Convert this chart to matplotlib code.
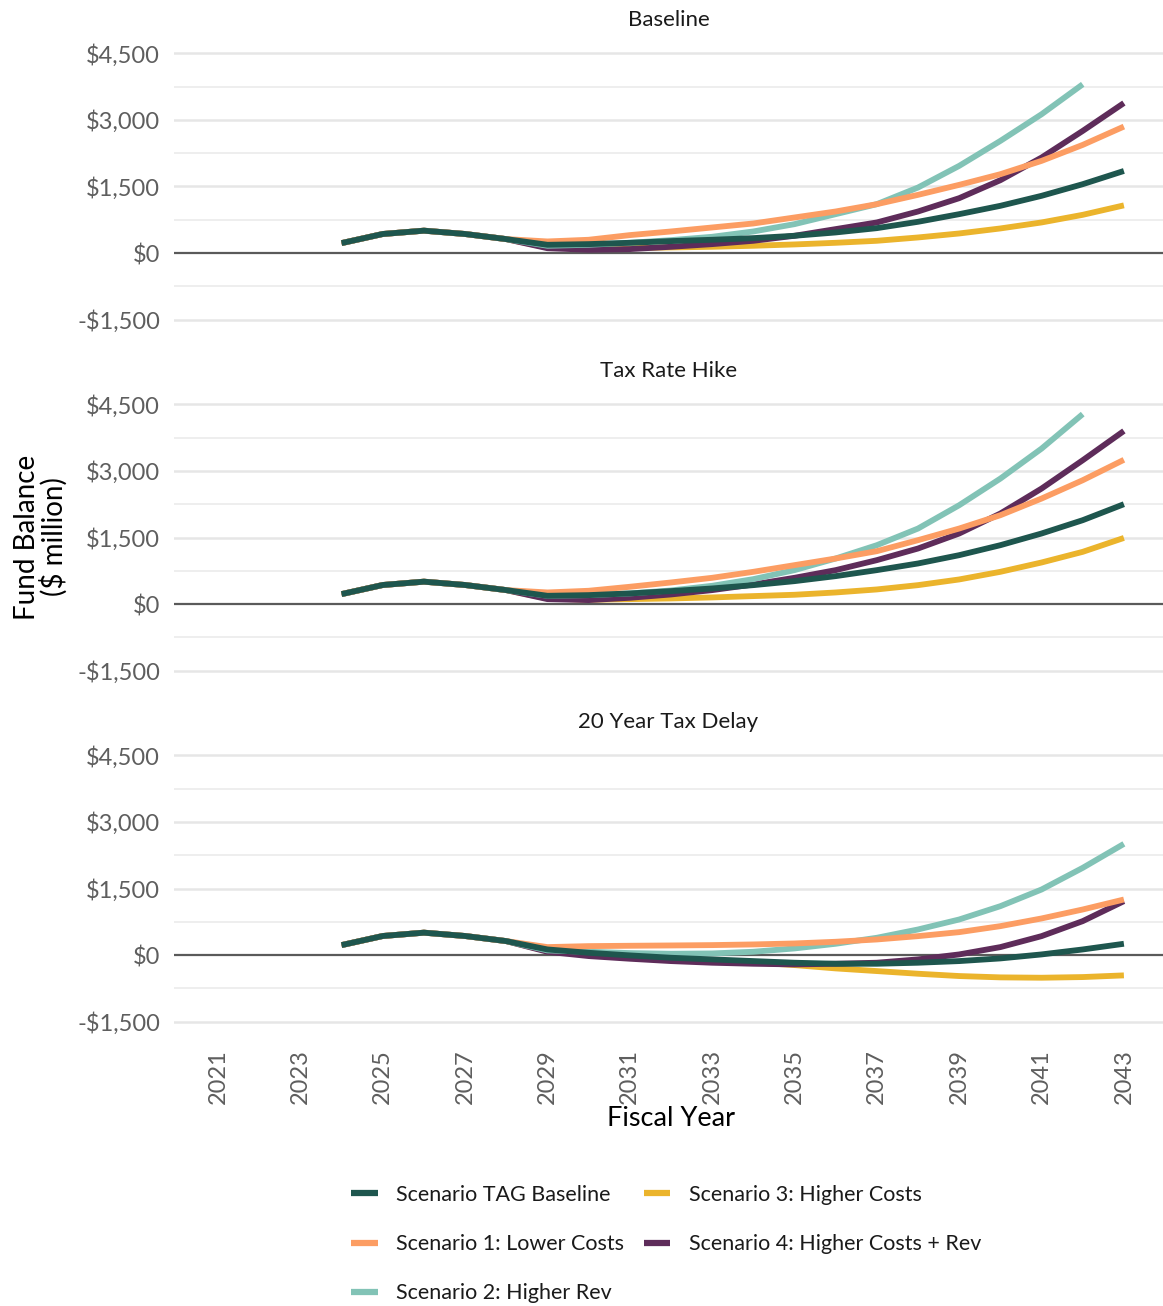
import matplotlib.pyplot as plt
import numpy as np

plt.rcParams['font.family'] = ['Lato', 'DejaVu Sans']

years = list(range(2024, 2044))
x_ticks = list(range(2021, 2044, 2))
y_ticks = [-1500, 0, 1500, 3000, 4500]
y_labels = ['-$1,500', '$0', '$1,500', '$3,000', '$4,500']
panels = ['Baseline', 'Tax Rate Hike', '20 Year Tax Delay']
scenarios = ['Scenario TAG Baseline', 'Scenario 1: Lower Costs', 'Scenario 2: Higher Rev',
             'Scenario 3: Higher Costs', 'Scenario 4: Higher Costs + Rev']
colors = ['#1E564E', '#FC9D63', '#82C3B6', '#EBB42C', '#5E2C5A']

# common start 2024-2028
start = [225, 430, 505, 430, 315]

# Baseline panel, 2029-2043 (nan = out of the plotted range)
base_tag = [187, 202, 232, 270, 300, 337, 390, 465, 562, 705, 877, 1065, 1290, 1552, 1850]
base_s1 = [262, 300, 405, 487, 577, 667, 802, 937, 1102, 1312, 1537, 1777, 2077, 2437, 2850]
base_s2 = [165, 187, 232, 292, 367, 487, 652, 877, 1102, 1477, 1965, 2527, 3127, 3802, np.nan]
base_s3 = [127, 97, 112, 127, 142, 165, 195, 232, 277, 352, 442, 555, 690, 862, 1075]
base_s4 = [110, 75, 90, 142, 202, 277, 390, 540, 690, 937, 1237, 1642, 2152, 2752, 3380]

# Tax Rate Hike panel, 2029-2043
hike_tag = [187, 202, 240, 292, 352, 427, 517, 630, 765, 915, 1102, 1327, 1590, 1890, 2250]
hike_s1 = [262, 300, 390, 487, 592, 727, 877, 1027, 1192, 1440, 1702, 2002, 2377, 2790, 3250]
hike_s2 = [187, 202, 240, 307, 412, 562, 765, 1027, 1327, 1702, 2227, 2827, 3502, 4280, np.nan]
hike_s3 = [127, 97, 112, 127, 150, 180, 210, 262, 330, 427, 555, 727, 937, 1177, 1490]
hike_s4 = [112, 90, 142, 217, 315, 442, 592, 765, 990, 1252, 1590, 2040, 2602, 3240, 3900]

# 20 Year Tax Delay panel, 2029-2043
delay_tag = [127, 52, -7, -60, -97, -135, -172, -195, -195, -172, -135, -75, 15, 127, 255]
delay_s1 = [180, 202, 210, 217, 225, 240, 262, 300, 352, 427, 517, 652, 825, 1027, 1252]
delay_s2 = [105, 75, 45, 30, 37, 75, 150, 255, 390, 577, 802, 1102, 1477, 1965, 2505]
delay_s3 = [90, 30, -30, -75, -120, -165, -225, -300, -360, -420, -472, -502, -510, -495, -457]
delay_s4 = [75, -22, -82, -135, -172, -195, -210, -195, -172, -97, 15, 180, 427, 765, 1215]

panel_data = [
    [base_tag, base_s1, base_s2, base_s3, base_s4],
    [hike_tag, hike_s1, hike_s2, hike_s3, hike_s4],
    [delay_tag, delay_s1, delay_s2, delay_s3, delay_s4],
]

W, H = 1163, 1306
fig = plt.figure(figsize=(W / 100, H / 100), dpi=100)

tops = [40, 391, 742]
ph = 293
left = 174

for p, top in enumerate(tops):
    ax = fig.add_axes([left / W, 1 - (top + ph) / H, (W - left) / W, ph / H])
    for v in [-750, 750, 2250, 3750]:
        ax.axhline(v, color='#EBEBEB', lw=1.2, zorder=0)
    for v in [-1500, 1500, 3000, 4500]:
        ax.axhline(v, color='#E6E6E6', lw=1.8, zorder=0)
    ax.axhline(0, color='#5A5A5A', lw=1.6, zorder=1)
    # baseline drawn last so it sits on top
    for i in [3, 4, 2, 1, 0]:
        vals = np.array(start + panel_data[p][i], dtype=float)
        ax.plot(years, vals, color=colors[i], lw=4.2, solid_capstyle='butt', zorder=2 + (i == 0))
    ax.set_xlim(2019.93, 2043.95)
    ax.set_ylim(-1800, 4800)
    ax.set_yticks(y_ticks)
    ax.set_yticklabels(y_labels)
    ax.set_xticks(x_ticks)
    if p < 2:
        ax.set_xticklabels([])
    else:
        ax.set_xticklabels([str(t) for t in x_ticks], rotation=90)
    ax.tick_params(length=0, labelsize=17, labelcolor='#5E5E5E', pad=10)
    for s in ax.spines.values():
        s.set_visible(False)
    ax.patch.set_alpha(0)
    ax.text(0.5, 1 + 20 / ph, panels[p], transform=ax.transAxes, ha='center', va='center',
            fontsize=16, color='#1A1A1A')

fig.text(671 / W, 1 - 1118 / H, 'Fiscal Year', ha='center', va='center', fontsize=19.5)
fig.text(41 / W, 1 - 537 / H, 'Fund Balance\n($ million)', ha='center', va='center',
         rotation=90, fontsize=20, linespacing=0.95)

handles = [plt.Line2D([], [], color=c, lw=4.5, solid_capstyle='butt') for c in colors]
fig.legend(handles, scenarios, ncol=2, frameon=False, loc='upper left',
           bbox_to_anchor=(351 / W, 1 - 1185 / H), borderaxespad=0, borderpad=0,
           fontsize=15.5, handlelength=1.25, handletextpad=0.85, labelspacing=1.35,
           columnspacing=0.9, labelcolor='#1A1A1A')

fig.savefig('out.png', dpi=100)
